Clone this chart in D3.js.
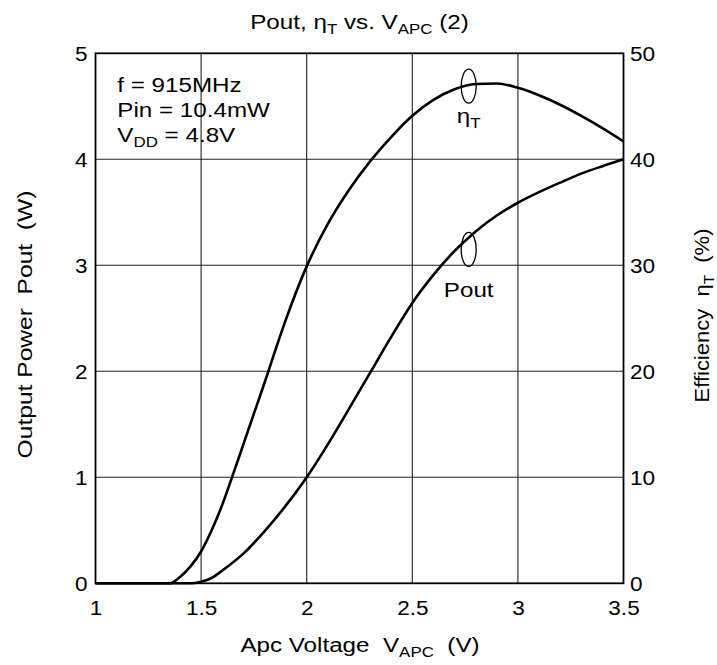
<!DOCTYPE html>
<html><head><meta charset="utf-8">
<script src="https://cdn.jsdelivr.net/npm/d3@7"></script>
<style>
body{margin:0;background:#fff;}
text{font-family:"Liberation Sans",Arial,sans-serif;fill:#000;white-space:pre;}
</style></head>
<body><svg id="c" width="717" height="665"></svg>
<script>
// ---- data ----
const xTicks = [1, 1.5, 2, 2.5, 3, 3.5];
const xTickLabels = ["1", "1.5", "2", "2.5", "3", "3.5"];
const yLeftTicks = [0, 1, 2, 3, 4, 5];
const yRightTicks = [0, 10, 20, 30, 40, 50];
const poutV = [1.0, 1.2, 1.45, 1.5, 1.55, 1.6, 1.7, 1.8, 1.9, 2.0, 2.1, 2.2, 2.3, 2.4, 2.5, 2.6, 2.7, 2.8, 2.9, 3.0, 3.1, 3.2, 3.3, 3.4, 3.5];
const poutW = [0, 0, 0, 0.015, 0.05, 0.12, 0.28, 0.49, 0.73, 1.0, 1.31, 1.645, 1.985, 2.325, 2.645, 2.91, 3.135, 3.32, 3.47, 3.59, 3.69, 3.78, 3.865, 3.935, 4.0];
const effV = [1.0, 1.2, 1.35, 1.4, 1.45, 1.5, 1.55, 1.6, 1.65, 1.7, 1.75, 1.8, 1.85, 1.9, 2.0, 2.1, 2.2, 2.3, 2.4, 2.5, 2.6, 2.7, 2.8, 2.9, 3.0, 3.1, 3.2, 3.3, 3.4, 3.5];
const effPct = [0, 0, 0, 0.6, 1.6, 3.0, 5.0, 7.4, 10.2, 13.1, 16.0, 18.9, 21.9, 24.8, 29.9, 33.9, 37.1, 39.8, 42.1, 44.1, 45.6, 46.6, 47.1, 47.15, 46.75, 46.05, 45.15, 44.1, 42.95, 41.7];

// ---- layout ----
const svg = d3.select("#c");
const L = 95.5, R = 623.5, T = 53.3, B = 583.3;
const SX = 1.21;   // horizontal stretch of the lettering
const FS = 20;
const x = d3.scaleLinear().domain([1, 3.5]).range([L, R]);
const yL = d3.scaleLinear().domain([0, 5]).range([B, T]);
const yR = d3.scaleLinear().domain([0, 50]).range([B, T]);

// text helper: parts = [[string, isSub], ...]
function stext(px, py, parts, opt = {}) {
  const rot = opt.rotate || 0, anchor = opt.anchor || "start", fs = opt.fs || FS, sx = opt.sx || SX;
  const sub = opt.sub || Math.round(fs * 0.72);
  const g = svg.append("g").attr("transform", `translate(${px},${py}) rotate(${rot}) scale(${sx},1)`);
  const t = g.append("text").attr("x", 0).attr("y", 0).attr("text-anchor", anchor).attr("font-size", fs);
  let prevSub = false;
  parts.forEach(([s, isSub]) => {
    const ts = t.append("tspan").text(s);
    if (isSub) ts.attr("font-size", sub);
    if (isSub && !prevSub) ts.attr("dy", fs * 0.25);
    if (!isSub && prevSub) ts.attr("dy", -fs * 0.25);
    prevSub = isSub;
  });
  return t;
}

// grid
svg.append("g").selectAll("line").data(xTicks.slice(1, -1)).enter().append("line")
  .attr("x1", d => x(d)).attr("x2", d => x(d)).attr("y1", T).attr("y2", B)
  .attr("stroke", "#222").attr("stroke-width", 1.1);
svg.append("g").selectAll("line").data(yLeftTicks.slice(1, -1)).enter().append("line")
  .attr("x1", L).attr("x2", R).attr("y1", d => yL(d)).attr("y2", d => yL(d))
  .attr("stroke", "#222").attr("stroke-width", 1.1);
// frame
svg.append("rect").attr("x", L).attr("y", T).attr("width", R - L).attr("height", B - T)
  .attr("fill", "none").attr("stroke", "#000").attr("stroke-width", 1.8);

// axes tick labels through d3 axes
const tfs = 20.5, tsx = 1.1;
const gb = svg.append("g").attr("transform", `translate(0,${B})`)
  .call(d3.axisBottom(x).tickValues(xTicks).tickFormat((d, i) => xTickLabels[i]).tickSize(0).tickPadding(0));
gb.selectAll("text").attr("dy", null).attr("y", 31.5);
const gl = svg.append("g").attr("transform", `translate(${L},0)`)
  .call(d3.axisLeft(yL).tickValues(yLeftTicks).tickFormat(d3.format("d")).tickSize(0).tickPadding(8));
const gr = svg.append("g").attr("transform", `translate(${R},0)`)
  .call(d3.axisRight(yR).tickValues(yRightTicks).tickFormat(d3.format("d")).tickSize(0).tickPadding(6.5));
[gl, gr].forEach(a => a.selectAll("text").attr("dy", null).attr("y", 7.5));
[gb, gl, gr].forEach(a => {
  a.select(".domain").remove();
  a.selectAll("text").attr("font-size", tfs).attr("font-family", "Liberation Sans, Arial, sans-serif")
    .attr("fill", "#000").attr("transform", `scale(${tsx},1)`)
    .attr("x", function() { const v = +d3.select(this).attr("x") || 0; return v / tsx; });
});

// curves
const line = d3.line().curve(d3.curveMonotoneX);
svg.append("path")
  .attr("d", line(poutV.map((v, i) => [x(v), yL(poutW[i])])))
  .attr("fill", "none").attr("stroke", "#000").attr("stroke-width", 2.6).attr("stroke-linejoin", "round");
svg.append("path")
  .attr("d", line(effV.map((v, i) => [x(v), yR(effPct[i])])))
  .attr("fill", "none").attr("stroke", "#000").attr("stroke-width", 2.6).attr("stroke-linejoin", "round");

// annotation loops (positioned in data coordinates)
const loops = [
  {v: 2.767, val: 46.9, axis: "R", parts: [["η", false], ["T", true]], dy: 37},
  {v: 2.767, val: 3.15, axis: "L", parts: [["Pout", false]], dy: 47.5}
];
loops.forEach(o => {
  const cx = x(o.v), cy = o.axis === "R" ? yR(o.val) : yL(o.val);
  svg.append("ellipse").attr("cx", cx).attr("cy", cy).attr("rx", 7.5).attr("ry", 17)
    .attr("fill", "none").attr("stroke", "#000").attr("stroke-width", 1.3);
  stext(cx, cy + o.dy, o.parts, {anchor: "middle"});
});

// conditions
stext(117.3, 91.7, [["f = 915MHz", false]]);
stext(117.3, 116.7, [["Pin = 10.4mW", false]]);
stext(117.3, 141.7, [["V", false], ["DD", true], [" = 4.8V", false]]);

// title
stext(359.5, 29.3, [["Pout, η", false], ["T", true], [" vs. V", false], ["APC", true], [" (2)", false]], {anchor: "middle"});
// x title
stext(360, 651.7, [["Apc Voltage  V", false], ["APC", true], ["  (V)", false]], {anchor: "middle"});
// left title
stext(32, 324.5, [["Output Power  Pout  (W)", false]], {anchor: "middle", rotate: -90, sx: 1.23});
// right title
stext(708.5, 315.5, [["Efficiency  η", false], ["T", true], ["  (%)", false]], {anchor: "middle", rotate: -90, sx: 1.1});
</script></body></html>
